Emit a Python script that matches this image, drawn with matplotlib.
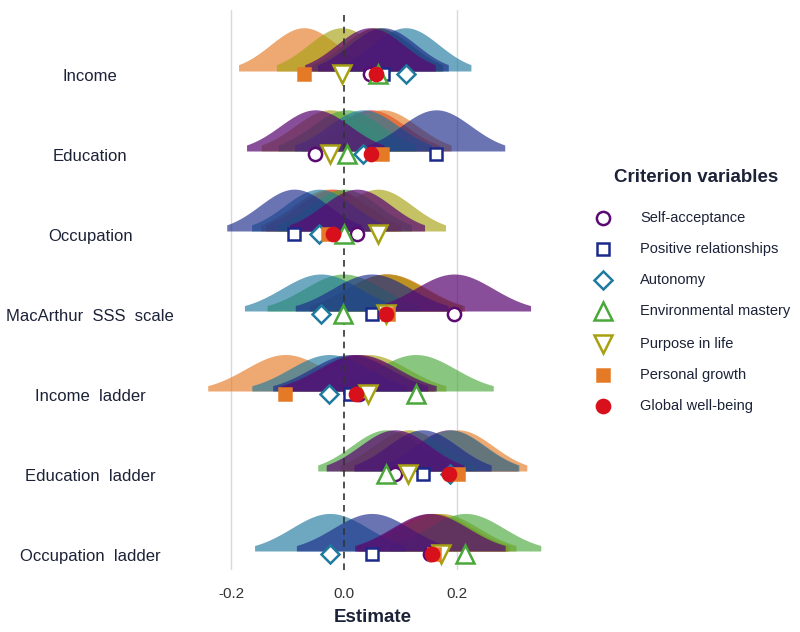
import numpy as np
import matplotlib.pyplot as plt

plt.rcParams['font.family'] = ['Liberation Sans', 'DejaVu Sans']

# predictors, top row first
predictors = ['Income', 'Education', 'Occupation', 'MacArthur  SSS  scale',
              'Income  ladder', 'Education  ladder', 'Occupation  ladder']
# standard error of the estimates in each row (sets the curve width)
row_se = [0.059, 0.062, 0.061, 0.069, 0.070, 0.062, 0.068]

criteria = ['Self-acceptance', 'Positive relationships', 'Autonomy',
            'Environmental mastery', 'Purpose in life', 'Personal growth',
            'Global well-being']

# estimates for each criterion, one per predictor row
self_acceptance = [0.046, -0.051, 0.023, 0.195, 0.026, 0.090, 0.152]
positive_relationships = [0.069, 0.163, -0.088, 0.049, 0.011, 0.139, 0.049]
autonomy = [0.109, 0.034, -0.044, -0.041, -0.026, 0.188, -0.025]
environmental_mastery = [0.060, 0.005, 0.000, -0.001, 0.127, 0.075, 0.215]
purpose_in_life = [-0.004, -0.025, 0.060, 0.075, 0.043, 0.114, 0.171]
personal_growth = [-0.071, 0.068, -0.028, 0.078, -0.104, 0.202, 0.160]
global_wellbeing = [0.057, 0.047, -0.019, 0.074, 0.022, 0.186, 0.156]
estimates = [self_acceptance, positive_relationships, autonomy,
             environmental_mastery, purpose_in_life, personal_growth,
             global_wellbeing]

# styles
colors = ['#5b0a72', '#1b2a8a', '#1f7a9f', '#4aa83a', '#a7a112', '#e57a26', '#d7101c']
alphas = [0.72, 0.65, 0.65, 0.65, 0.65, 0.65, 0.65]
markers = ['o', 's', 'D', '^', 'v', 's', 'o']
filled = [False, False, False, False, False, True, True]
msizes = [9.5, 9, 9.5, 13, 13, 9, 9.5]
text_col = '#1c2237'

fig = plt.figure(figsize=(8, 6.32), dpi=100)
ax = fig.add_axes([0.25, 1 - 570 / 632, 345 / 800, 560 / 632])

n = len(predictors)
ypos = np.arange(n, 0, -1)   # Income on top
scale = 0.08                  # density -> row height

# grid + zero line
for gx in [-0.2, 0.2]:
    ax.axvline(gx, color='#d9d9d9', lw=1, zorder=0)
ax.axvline(0, color='#333333', lw=1.2, ls=(0, (4, 3)), zorder=20)

# density curves, drawn last criterion first
for r in range(n):
    se = row_se[r]
    for c in reversed(range(len(criteria))):
        m = estimates[c][r]
        xs = np.linspace(m - 1.96 * se, m + 1.96 * se, 200)
        dens = np.exp(-0.5 * ((xs - m) / se) ** 2) / (se * np.sqrt(2 * np.pi))
        ax.fill_between(xs, ypos[r], ypos[r] + dens * scale, color=colors[c],
                        alpha=alphas[c], lw=0, zorder=2 + r * 0.01)

# point estimates
for c in range(len(criteria)):
    face = colors[c] if filled[c] else 'white'
    ax.plot(estimates[c], ypos - 0.04, ls='none', marker=markers[c],
            ms=msizes[c], mfc=face, mec=colors[c], mew=1.8, zorder=30 + c)

ax.set_xlim(-0.2549, 0.3558)
ax.set_ylim(1 - 19 / 80, n + 61 / 80)
ax.set_xticks([-0.2, 0.0, 0.2])
ax.set_xticklabels(['-0.2', '0.0', '0.2'])
ax.set_yticks(ypos - 0.05)
ax.set_yticklabels(predictors)
for lbl in ax.get_yticklabels():
    lbl.set_horizontalalignment('center')
ax.tick_params(axis='y', length=0, pad=79, labelsize=12, labelcolor=text_col)
ax.tick_params(axis='x', length=0, pad=12, labelsize=11, labelcolor='#333333')
ax.set_xlabel('Estimate', fontsize=13.5, fontweight='bold', color=text_col, labelpad=6)
for s in ax.spines.values():
    s.set_visible(False)

# legend drawn in figure pixel space
lg = fig.add_axes([0, 0, 1, 1], zorder=-1)
lg.set_xlim(0, 800)
lg.set_ylim(632, 0)
lg.axis('off')
lg.text(696, 178, 'Criterion variables', fontsize=13.5, fontweight='bold',
        color=text_col, ha='center', va='center')
leg_y = [218, 249, 280, 311, 344, 375, 406]
for c in range(len(criteria)):
    face = colors[c] if filled[c] else 'white'
    lg.plot([603], [leg_y[c]], ls='none', marker=markers[c], ms=msizes[c],
            mfc=face, mec=colors[c], mew=1.8)
    lg.text(640, leg_y[c], criteria[c], fontsize=10.5, color=text_col,
            ha='left', va='center')

fig.savefig('out.png', dpi=100)
